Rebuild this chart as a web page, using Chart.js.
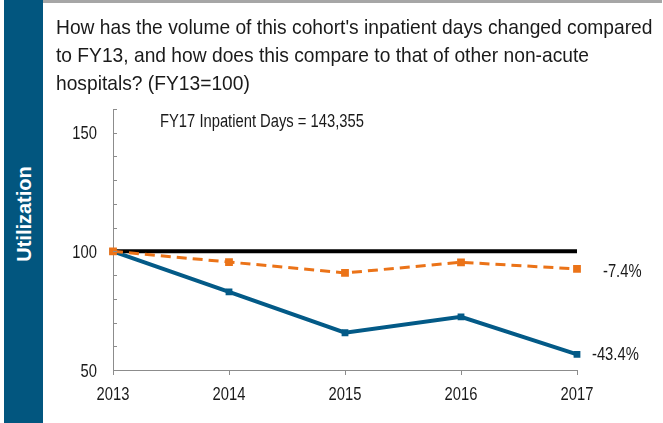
<!DOCTYPE html>
<html>
<head>
<meta charset="utf-8">
<script src="https://cdn.jsdelivr.net/npm/chart.js@4"></script>
<style>
  html, body { margin: 0; padding: 0; background: #fff; }
  #wrap { position: relative; width: 663px; height: 423px; overflow: hidden; }
  #side { position: absolute; left: 4px; top: 0; width: 39px; height: 423px; background: #02567f; }
  #side span {
    position: absolute; left: 50%; top: 214px;
    transform: translate(-50%, -50%) rotate(-90deg);
    color: #fff; font: bold 20px "Liberation Sans", Arial, sans-serif;
    white-space: nowrap;
  }
  #topbar { position: absolute; left: 43px; top: 0; width: 619px; height: 3px; background: #a6a6a6; }
  #title {
    position: absolute; left: 56px; top: 12.5px;
    font: 21px "Liberation Sans", Arial, sans-serif;
    line-height: 28.3px; color: #1a1a1a; white-space: nowrap;
    transform: scaleX(0.915); transform-origin: 0 0;
  }
  #c { position: absolute; left: 0; top: 0; }
</style>
</head>
<body>
<div id="wrap">
  <canvas id="c" width="663" height="423"></canvas>
  <div id="side"><span>Utilization</span></div>
  <div id="topbar"></div>
  <div id="title">How has the volume of this cohort's inpatient days changed compared<br>to FY13, and how does this compare to that of other non-acute<br>hospitals? (FY13=100)</div>
</div>
<script>
// Datos (FY13 = 100)
const years = ['2013', '2014', '2015', '2016', '2017'];
const cohort = [100, 82.9, 65.7, 72.4, 56.6];
const nonAcute = [100, 95.5, 90.9, 95.4, 92.6];
const baseline = [100, 100, 100, 100, 100];
const yTicks = [50, 60, 70, 80, 90, 100, 110, 120, 130, 140, 150, 160];
const yLabels = [50, 100, 150];
const endLabels = ['-43.4%', '-7.4%'];
const note = 'FY17 Inpatient Days = 143,355';

const FONT = '"Liberation Sans", Arial, sans-serif';
const BLUE = '#035a87', ORANGE = '#eb7318', AXIS = '#8c8c8c', TXT = '#1a1a1a';
const SQ = 0.82; // el original está comprimido en horizontal

function txt(ctx, s, x, y, align) {
  ctx.save();
  ctx.translate(x, y);
  ctx.scale(SQ, 1);
  ctx.textAlign = align;
  ctx.fillText(s, 0, 0);
  ctx.restore();
}

// Ticks hacia dentro en el eje Y, etiquetas de ejes, nota y etiquetas finales
const extrasPlugin = {
  id: 'extras',
  afterDraw(chart) {
    const { ctx, scales: { x, y } } = chart;
    ctx.save();
    ctx.strokeStyle = AXIS; ctx.lineWidth = 1;
    y.ticks.forEach(t => {
      const py = Math.round(y.getPixelForValue(t.value)) + 0.5;
      ctx.beginPath(); ctx.moveTo(x.left, py); ctx.lineTo(x.left + 4, py); ctx.stroke();
    });
    ctx.fillStyle = TXT;
    ctx.font = '18px ' + FONT;
    ctx.textBaseline = 'alphabetic';
    yLabels.forEach(v => txt(ctx, String(v), x.left - 16, y.getPixelForValue(v) + 6.5, 'right'));
    years.forEach((lbl, i) => txt(ctx, lbl, x.getPixelForValue(i), 399.5, 'center'));
    txt(ctx, note, x.getPixelForValue(0) + 47, y.getPixelForValue(155.3) + 6.5, 'left');
    const last = years.length - 1;
    txt(ctx, endLabels[0], x.getPixelForValue(last) + 15, y.getPixelForValue(cohort[last]) + 6, 'left');
    txt(ctx, endLabels[1], x.getPixelForValue(last) + 26, y.getPixelForValue(nonAcute[last]) + 8, 'left');
    ctx.restore();
  }
};

new Chart(document.getElementById('c').getContext('2d'), {
  type: 'line',
  data: {
    labels: years,
    datasets: [
      {
        label: 'Other non-acute hospitals', data: nonAcute, order: 0,
        borderColor: ORANGE, backgroundColor: ORANGE, borderWidth: 3, borderDash: [10, 6],
        pointStyle: 'rect', pointRadius: 5.5, pointBorderWidth: 0, tension: 0
      },
      {
        label: 'Cohort', data: cohort, order: 1,
        borderColor: BLUE, backgroundColor: BLUE, borderWidth: 4,
        pointStyle: 'rect', pointRadius: 4.8, pointBorderWidth: 0, tension: 0
      },
      {
        label: 'FY13', data: baseline, order: 2,
        borderColor: '#000', borderWidth: 4, pointRadius: 0, tension: 0
      }
    ]
  },
  options: {
    responsive: false, devicePixelRatio: 1, animation: false,
    layout: { padding: { left: 0, right: 86, top: 109, bottom: 0 } },
    plugins: { legend: { display: false }, tooltip: { enabled: false } },
    scales: {
      x: {
        offset: false,
        grid: { drawOnChartArea: false, drawTicks: true, tickLength: 5, color: AXIS },
        border: { color: AXIS, width: 1 },
        ticks: { display: false },
        afterFit: s => { s.height = 53; }
      },
      y: {
        min: 50, max: 160,
        grid: { display: false, drawTicks: false },
        border: { color: AXIS, width: 1 },
        ticks: { display: false },
        afterBuildTicks: s => { s.ticks = yTicks.map(v => ({ value: v })); },
        afterFit: s => { s.width = 113; }
      }
    }
  },
  plugins: [extrasPlugin]
});
</script>
</body>
</html>
